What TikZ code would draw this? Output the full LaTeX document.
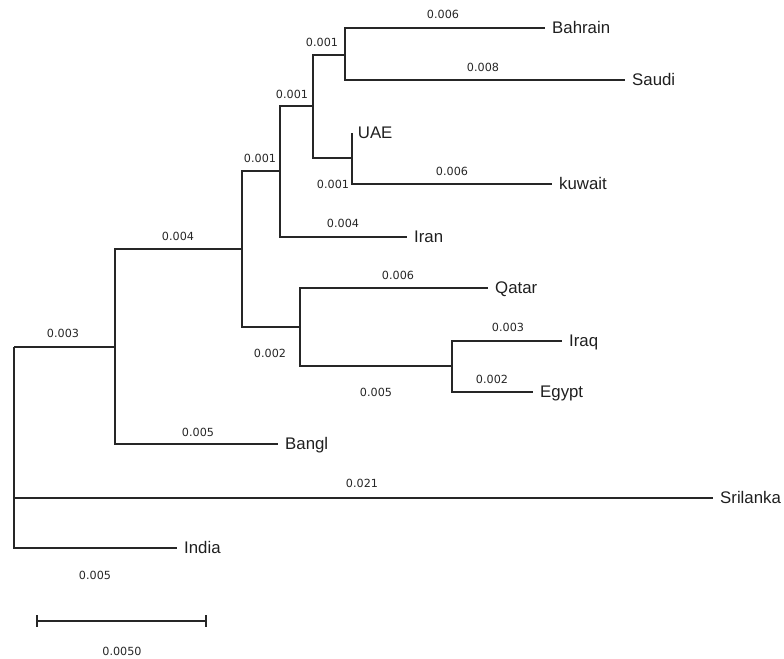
\documentclass[tikz,border=0pt]{standalone}
\usepackage{fontspec}
\setmainfont{Liberation Sans}
\newfontfamily\numfont{DejaVu Sans}
\begin{document}
\begin{tikzpicture}[x=0.75pt,y=-0.75pt,
  branch/.style={line width=0.95pt,draw=black!85},
  leaf/.style={anchor=west,inner xsep=5.2pt,inner ysep=0pt,text height=8.9pt,text depth=0pt,
     font=\fontsize{12.6}{14}\selectfont,text=black!88},
  blen/.style={inner sep=0pt,font=\numfont\fontsize{8.4}{10}\selectfont,text=black!85}]
\useasboundingbox (0,0) rectangle (784,659);
% internal nodes
\coordinate (r0) at (14,347);
\coordinate (n1) at (115,347);
\coordinate (n2) at (242,249);
\coordinate (n3) at (280,171);
\coordinate (n4) at (313,106);
\coordinate (n5) at (345,55);
\coordinate (n7) at (352,158);
\coordinate (n6) at (300,327);
\coordinate (n8) at (452,366);
% leaves
\node[leaf] (bahrain) at (545,28) {Bahrain};
\node[leaf] (saudi) at (625,80) {Saudi};
\node[leaf,inner xsep=4.2pt] (uae) at (352,133) {UAE};
\node[leaf] (kuwait) at (552,184) {kuwait};
\node[leaf] (iran) at (407,237) {Iran};
\node[leaf] (qatar) at (488,288) {Qatar};
\node[leaf] (iraq) at (562,341) {Iraq};
\node[leaf] (egypt) at (533,392) {Egypt};
\node[leaf] (bangl) at (278,444) {Bangl};
\node[leaf] (srilanka) at (713,498) {Srilanka};
\node[leaf] (india) at (177,548) {India};
% branches
\draw[branch] (r0) -- (n1);
\draw[branch] (r0) |- (srilanka.west);
\draw[branch] (r0) |- (india.west);
\draw[branch] (n1) |- (n2);
\draw[branch] (n1) |- (bangl.west);
\draw[branch] (n2) |- (n3);
\draw[branch] (n2) |- (n6);
\draw[branch] (n3) |- (n4);
\draw[branch] (n3) |- (iran.west);
\draw[branch] (n4) |- (n5);
\draw[branch] (n4) |- (n7);
\draw[branch] (n5) |- (bahrain.west);
\draw[branch] (n5) |- (saudi.west);
\draw[branch] (n7) |- (uae.west);
\draw[branch] (n7) |- (kuwait.west);
\draw[branch] (n6) |- (qatar.west);
\draw[branch] (n6) |- (n8);
\draw[branch] (n8) |- (iraq.west);
\draw[branch] (n8) |- (egypt.west);
% branch lengths
\node[blen] (l1) at (443,14) {0.006};
\node[blen] (l2) at (483,67) {0.008};
\node[blen] (l3) at (322,42) {0.001};
\node[blen] (l4) at (292,94) {0.001};
\node[blen] (l5) at (260,158) {0.001};
\node[blen] (l6) at (333,184) {0.001};
\node[blen] (l7) at (452,171) {0.006};
\node[blen] (l8) at (343,223) {0.004};
\node[blen] (l9) at (178,236) {0.004};
\node[blen] (l10) at (63,333) {0.003};
\node[blen] (l11) at (398,275) {0.006};
\node[blen] (l12) at (270,353) {0.002};
\node[blen] (l13) at (508,327) {0.003};
\node[blen] (l14) at (492,379) {0.002};
\node[blen] (l15) at (376,392) {0.005};
\node[blen] (l16) at (198,432) {0.005};
\node[blen] (l17) at (362,483) {0.021};
\node[blen] (l18) at (95,575) {0.005};
% scale bar
\coordinate (sb1) at (37,621);
\coordinate (sb2) at (206,621);
\draw[branch] (sb1) -- (sb2);
\draw[branch] ([yshift=4.5pt]sb1) -- ([yshift=-4.5pt]sb1);
\draw[branch] ([yshift=4.5pt]sb2) -- ([yshift=-4.5pt]sb2);
\node[blen] (sbl) at (122,651) {0.0050};
\end{tikzpicture}
\end{document}
